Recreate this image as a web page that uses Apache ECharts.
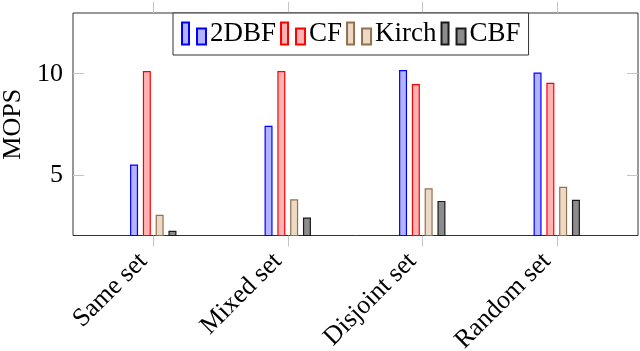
<!DOCTYPE html>
<html>
<head>
<meta charset="utf-8">
<script src="https://cdn.jsdelivr.net/npm/echarts@6/dist/echarts.min.js"></script>
<style>
html,body{margin:0;padding:0;background:#fff;}
#chart{width:640px;height:351px;}
</style>
</head>
<body>
<div id="chart"></div>
<script>
var categories = ['Same set', 'Mixed set', 'Disjoint set', 'Random set'];
var dbf2 = [5.51, 7.42, 10.18, 10.06];
var cf = [10.13, 10.13, 9.49, 9.55];
var kirch = [3.02, 3.79, 4.33, 4.41];
var cbf = [2.23, 2.89, 3.71, 3.77];
var yTicks = [5, 10];

var font = "'Liberation Serif', 'DejaVu Serif', serif";
var tickGray = '#c4c4c4';
// legend glyph: two bars, like pgfplots bar legend
var barIcon = 'path://M0,0 h7 v22 h-7 z M15,6 h9 v16 h-9 z';

var myChart = echarts.init(document.getElementById('chart'));

function barSeries(name, data, fill, border) {
    return {
        name: name,
        type: 'bar',
        xAxisIndex: 0,
        yAxisIndex: 0,
        data: data,
        barWidth: 8,
        barGap: '60%',
        clip: true,
        itemStyle: {color: fill, borderColor: border, borderWidth: 1.2}
    };
}

var option = {
    animation: false,
    backgroundColor: '#fff',
    textStyle: {fontFamily: font},
    legend: {
        left: 173,
        top: 13,
        padding: [7, 8, 8, 8],
        itemGap: 4,
        itemWidth: 24,
        itemHeight: 22,
        icon: barIcon,
        borderColor: '#333',
        borderWidth: 1,
        backgroundColor: '#fff',
        textStyle: {fontFamily: font, fontSize: 27, color: '#000', padding: [0, 0, 0, -1]},
        data: ['2DBF', 'CF', 'Kirch', 'CBF']
    },
    grid: [
        // data grid
        {left: 86, width: 538, top: 13, bottom: 115.5, show: false, outerBoundsMode: 'none', containLabel: false},
        // frame grid
        {left: 73, right: 2, top: 13, bottom: 115.5, show: true, borderColor: '#333', borderWidth: 1, z: 0, outerBoundsMode: 'none', containLabel: false}
    ],
    xAxis: [
        {
            type: 'category', gridIndex: 0, data: categories, position: 'bottom',
            axisLine: {show: false},
            axisTick: {show: true, alignWithLabel: true, inside: false, length: 11, lineStyle: {color: tickGray}},
            axisLabel: {interval: 0, rotate: 45, margin: 12, padding: [0, 14, 0, 0], fontFamily: font, fontSize: 26, color: '#000'}
        },
        {
            type: 'category', gridIndex: 0, data: categories, position: 'top',
            axisLine: {show: false},
            axisTick: {show: true, alignWithLabel: true, inside: false, length: 11, lineStyle: {color: tickGray}},
            axisLabel: {show: false}
        },
        {type: 'value', gridIndex: 1, show: false}
    ],
    yAxis: [
        {type: 'value', gridIndex: 0, min: 2, max: 13, show: false},
        {
            type: 'value', gridIndex: 1, min: 2, max: 13, position: 'left',
            name: 'MOPS', nameLocation: 'middle', nameGap: 44, nameRotate: 90,
            nameTextStyle: {fontFamily: font, fontSize: 26, color: '#000'},
            axisLine: {show: false},
            splitLine: {show: false},
            axisTick: {show: true, inside: true, length: 11, customValues: yTicks, lineStyle: {color: tickGray}},
            axisLabel: {margin: 10, fontFamily: font, fontSize: 26, color: '#000', customValues: yTicks}
        },
        {
            type: 'value', gridIndex: 1, min: 2, max: 13, position: 'right',
            axisLine: {show: false},
            splitLine: {show: false},
            axisTick: {show: true, inside: true, length: 11, customValues: yTicks, lineStyle: {color: tickGray}},
            axisLabel: {show: false}
        }
    ],
    series: [
        barSeries('2DBF', dbf2, '#b3b3ff', '#0000ff'),
        barSeries('CF', cf, '#ffb3b3', '#ff0000'),
        barSeries('Kirch', kirch, '#ecd9c6', '#94704c'),
        barSeries('CBF', cbf, '#8c8c8c', '#1a1a1a')
    ]
};
myChart.setOption(option);
</script>
</body>
</html>
